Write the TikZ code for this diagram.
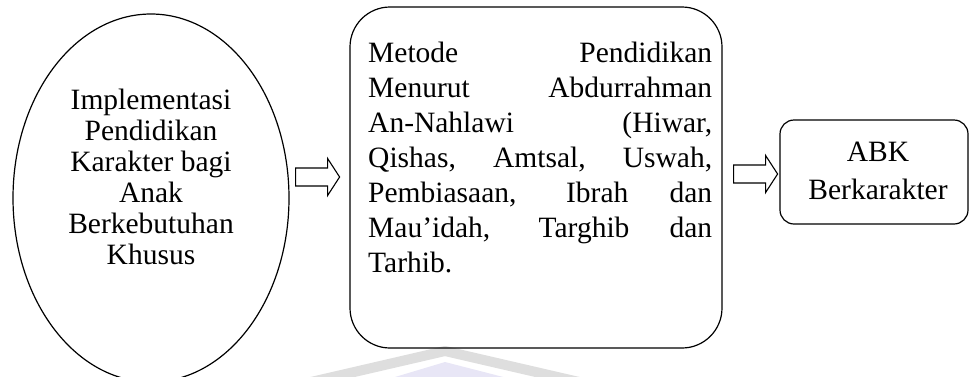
\documentclass[tikz,border=0pt]{standalone}
\usepackage{fontspec}
\setmainfont{Liberation Serif}
\usetikzlibrary{calc,shapes.geometric}

\definecolor{markfill}{RGB}{232,230,246}
\definecolor{markband}{RGB}{222,222,222}

\tikzset{
  outline/.style={draw=black, line width=1.2pt},
  blockarrow/.style={draw=black, line width=1.1pt, fill=white, line join=miter},
  bodytext/.style={inner sep=0pt, anchor=base, font=\fontsize{29.5}{31}\selectfont},
}

% hollow block arrow starting at a named coordinate (shaft centre line)
\newcommand{\hollowarrow}[1]{%
  \draw[blockarrow] (#1) ++(0,-9) -- ++(32,0) -- ++(0,-9.5) -- ++(12,18.5)
    -- ++(-12,18.5) -- ++(0,-9.5) -- ++(-32,0) -- cycle;}

\begin{document}
\begin{tikzpicture}[x=1pt, y=-1pt]
  \useasboundingbox (0,0) rectangle (971,376);
  \clip (0,0) rectangle (971,376);

  % faint background emblem
  \fill[markfill] (385,380) -- (445,362) -- (515,380) -- cycle;
  \draw[markband, line width=10pt, line join=round] (285,388) -- (445,351) -- (605,388);

  % source: ellipse
  \node[outline, ellipse, minimum width=276pt, minimum height=368pt, inner sep=0pt]
    (src) at (151,198) {};
  \node[bodytext] (srctext) at (151,109)
    {\parbox[t]{230pt}{\centering\fontsize{29.5}{31}\selectfont
      Implementasi\\ Pendidikan\\ Karakter bagi\\ Anak\\ Berkebutuhan\\ Khusus}};

  % method: large rounded box
  \node[outline, rectangle, rounded corners=40pt, minimum width=372pt,
        minimum height=341pt, inner sep=0pt] (method) at (536,177.5) {};
  \node[bodytext, anchor=base west] (methodtext) at (368,62)
    {\parbox[t]{344pt}{\fontsize{29.5}{35}\selectfont
      \makebox[344pt][s]{Metode Pendidikan}\\
      \makebox[344pt][s]{Menurut Abdurrahman}\\
      \makebox[344pt][s]{An-Nahlawi (Hiwar,}\\
      \makebox[344pt][s]{Qishas, Amtsal, Uswah,}\\
      \makebox[344pt][s]{Pembiasaan, Ibrah dan}\\
      \makebox[344pt][s]{Mau’idah, Targhib dan}\\
      Tarhib.}};

  % result: small rounded box
  \node[outline, rectangle, rounded corners=14pt, minimum width=188pt,
        minimum height=104pt, inner sep=0pt] (result) at (874,172) {};
  \node[bodytext] (resulttext) at (878,161)
    {\parbox[t]{180pt}{\centering\fontsize{29.5}{38.5}\selectfont ABK\\ Berkarakter}};

  % connectors between the stages
  \coordinate (arrowA) at ($(src.east)+(6,-21)$);
  \coordinate (arrowB) at ($(method.east)+(11,-3.5)$);
  \hollowarrow{arrowA}
  \hollowarrow{arrowB}
\end{tikzpicture}
\end{document}
